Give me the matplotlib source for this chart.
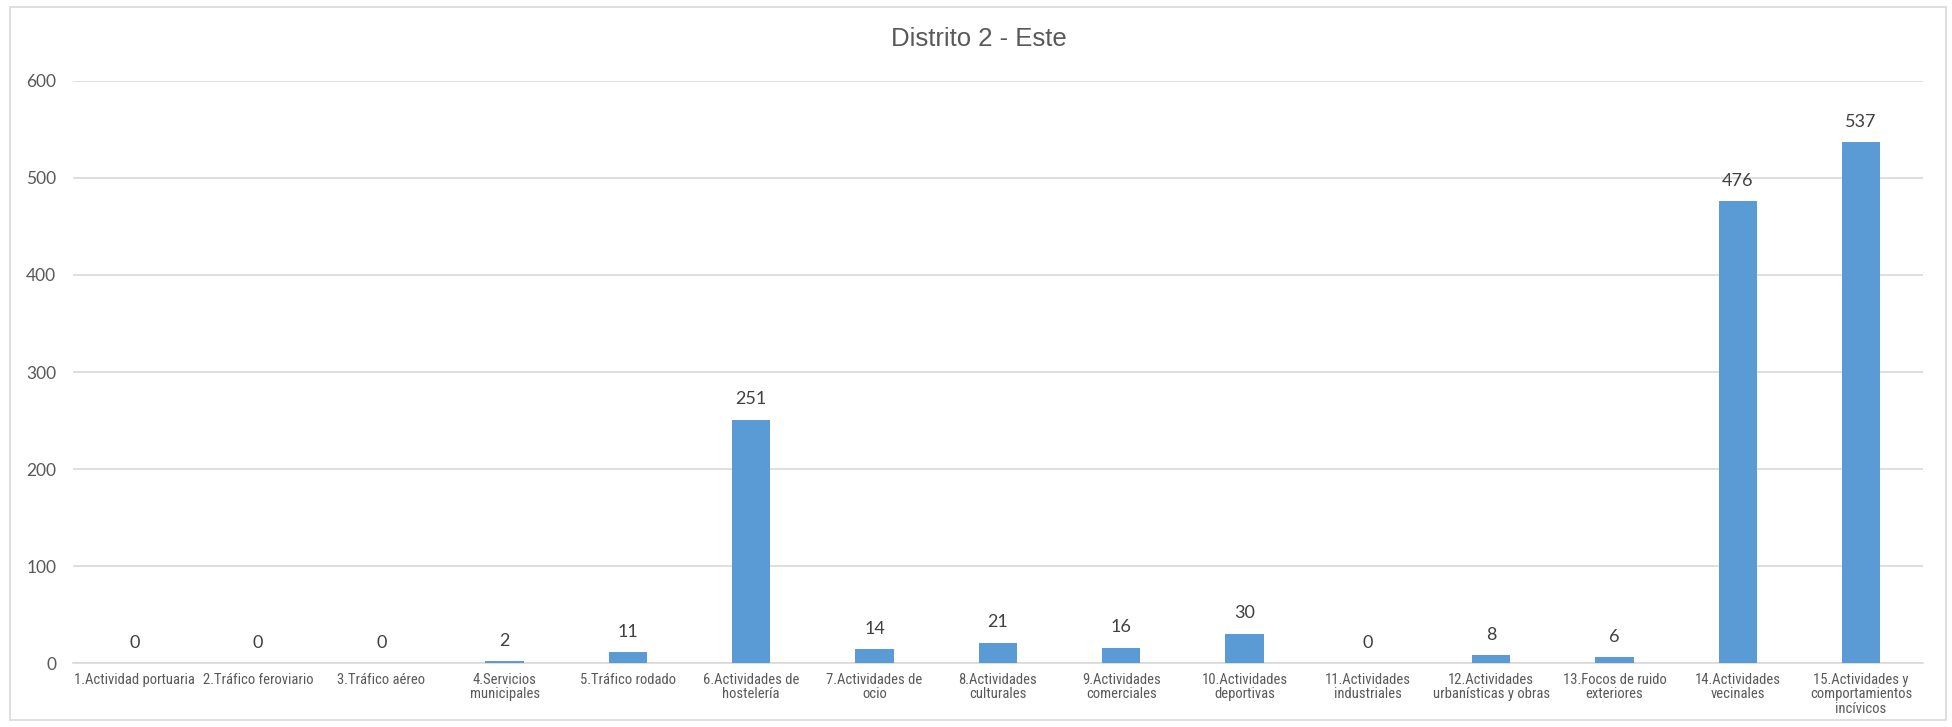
import matplotlib
matplotlib.use('Agg')
import matplotlib.pyplot as plt
from matplotlib import font_manager
from matplotlib.patches import Rectangle
import numpy as np

categorias = [
    '1.Actividad portuaria',
    '2.Tráfico feroviario',
    '3.Tráfico aéreo',
    '4.Servicios\nmunicipales',
    '5.Tráfico rodado',
    '6.Actividades de\nhostelería',
    '7.Actividades de\nocio',
    '8.Actividades\nculturales',
    '9.Actividades\ncomerciales',
    '10.Actividades\ndeportivas',
    '11.Actividades\nindustriales',
    '12.Actividades\nurbanísticas y obras',
    '13.Focos de ruido\nexteriores',
    '14.Actividades\nvecinales',
    '15.Actividades y\ncomportamientos\nincívicos',
]
valores = [0, 0, 0, 2, 11, 251, 14, 21, 16, 30, 0, 8, 6, 476, 537]
y_ticks = [0, 100, 200, 300, 400, 500, 600]
titulo = 'Distrito 2 - Este'

# fuente estrecha para las categorias, si hay alguna instalada
nombres = {f.name for f in font_manager.fontManager.ttflist}
estrecha = [n for n in ['Liberation Sans Narrow', 'Arial Narrow', 'DejaVu Sans Condensed',
                        'Roboto Condensed', 'Open Sans Condensed'] if n in nombres]
fam_cat = estrecha + ['Liberation Sans', 'DejaVu Sans']
tam_cat = 10.5 if estrecha else 9

fig = plt.figure(figsize=(19.52, 7.27), dpi=100)
ax = fig.add_axes([0.0374, 0.088, 0.9476, 0.8006])

x = np.arange(len(valores))
bars = ax.bar(x, valores, width=0.31, color='#5b9bd5', zorder=3)

ax.set_xlim(-0.5, len(valores) - 0.5)
ax.set_ylim(0, 600)
ax.set_yticks(y_ticks)
ax.set_yticklabels([str(v) for v in y_ticks], fontfamily='Lato', fontsize=12.5, color='#595959')
ax.yaxis.grid(True, color='#d9d9d9', linewidth=1.2, zorder=0)
ax.tick_params(axis='y', length=0, pad=12)
ax.tick_params(axis='x', length=0, pad=7)

ax.set_xticks(x)
ax.set_xticklabels(categorias, fontsize=tam_cat, color='#595959',
                   fontfamily=fam_cat, linespacing=1.05)

for s in ['top', 'right', 'left']:
    ax.spines[s].set_visible(False)
ax.spines['bottom'].set_color('#d9d9d9')
ax.spines['bottom'].set_linewidth(1.2)

for b, v in zip(bars, valores):
    ax.annotate(str(v), (b.get_x() + b.get_width() / 2, v), xytext=(0, 9),
                textcoords='offset points', ha='center', va='bottom',
                fontfamily='Lato', fontsize=13, color='#404040')

fig.text(0.5015, 0.946, titulo, ha='center', va='center',
         fontfamily='Liberation Sans', fontsize=18.5, color='#595959')

fig.patches.append(Rectangle((10 / 1952, 7 / 727), 1936 / 1952, 713 / 727,
                             transform=fig.transFigure, fill=False,
                             edgecolor='#d9d9d9', linewidth=1.2))

fig.savefig('out.png', dpi=100)
plt.close(fig)
